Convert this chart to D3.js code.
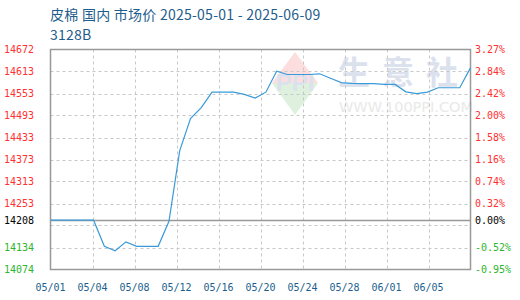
<!DOCTYPE html>
<html><head><meta charset="utf-8">
<script src="https://cdn.jsdelivr.net/npm/d3@7"></script>
<style>html,body{margin:0;padding:0;background:#fff;}svg{display:block;}</style>
</head><body>
<script>
const titleText = "皮棉 国内 市场价 2025-05-01 - 2025-06-09";
const subtitleText = "3128B";
// daily prices 2025-05-01 .. 2025-06-09 (40 days)
const prices = [14208,14208,14208,14208,14208,14137,14125,14149,14137,14137,
                14137,14205,14397,14484,14514,14556,14556,14556,14550,14540,
                14556,14613,14604,14604,14604,14606,14594,14582,14580,14579,
                14579,14577,14577,14557,14552,14556,14568,14568,14568,14622];
const xTickLabels = ["05/01","05/04","05/08","05/12","05/16","05/20","05/24","05/28","06/01","06/05"];
const baseValue = 14208;
const leftTickValues = [14074,14134,14253,14313,14373,14433,14493,14553,14613,14672];
const rightTickLabels = ["-0.95%","-0.52%","0.32%","0.74%","1.16%","1.58%","2.00%","2.42%","2.84%","3.27%"];
const yMin = 14074, yMax = 14672;

const W = 520, H = 300;
const m = {l: 50.5, r: 470.5, t: 49.5, b: 269.5};
const svg = d3.select("body").append("svg").attr("width", W).attr("height", H);

const x = d3.scaleLinear().domain([0, prices.length - 1]).range([m.l, m.r]);
const y = d3.scaleLinear().domain([yMin, yMax]).range([m.b, m.t]);

// watermark
const wm = svg.append("g");
const cx = 295, cy = 83;
wm.append("path").attr("d", `M${cx-23},${cy} L${cx},${cy-31} L${cx+23},${cy} Z`).attr("fill", "#fcdede");
wm.append("path").attr("d", `M${cx-23},${cy} L${cx},${cy+32} L${cx+23},${cy} Z`).attr("fill", "#def1de");
wm.append("text").attr("x", cx).attr("y", cy + 8).attr("text-anchor", "middle")
  .attr("font-family", "Liberation Sans, Arial, sans-serif").attr("font-weight", "bold")
  .attr("font-size", 24).attr("fill", "#dce1ee").text("PPI");
wm.append("text").attr("x", 404).attr("y", 84).attr("text-anchor", "middle")
  .attr("font-family", "Noto Sans CJK SC").attr("font-weight", "bold")
  .attr("font-size", 32).attr("letter-spacing", 12).attr("fill", "#dce1ee").text("生意社");
wm.append("text").attr("x", 406).attr("y", 112).attr("text-anchor", "middle")
  .attr("font-family", "DejaVu Sans, sans-serif")
  .attr("font-size", 14.5).attr("fill", "#e9e9e9").text("WWW.100PPI.COM");

// grid
const grid = svg.append("g").attr("stroke", "#c8c8c8").attr("stroke-dasharray", "3,3").attr("stroke-width", 1);
d3.range(1, 10).forEach(i => {
  const v = yMin + i * (yMax - yMin) / 10;
  grid.append("line").attr("x1", m.l).attr("x2", m.r).attr("y1", Math.round(y(v)) + 0.5).attr("y2", Math.round(y(v)) + 0.5);
});
const xTickPos = d3.range(0, 11).map(i => i * (prices.length - 1) / 10);
xTickPos.slice(1, 10).forEach(t => {
  grid.append("line").attr("y1", m.t).attr("y2", m.b).attr("x1", Math.round(x(t)) + 0.5).attr("x2", Math.round(x(t)) + 0.5);
});

// baseline
svg.append("line").attr("x1", m.l).attr("x2", m.r)
  .attr("y1", Math.round(y(baseValue)) + 0.5).attr("y2", Math.round(y(baseValue)) + 0.5)
  .attr("stroke", "#999").attr("stroke-width", 1.5);

// frame
svg.append("rect").attr("x", m.l).attr("y", m.t).attr("width", m.r - m.l).attr("height", m.b - m.t)
  .attr("fill", "none").attr("stroke", "#999").attr("stroke-width", 1.5);

// line
svg.append("path").datum(prices)
  .attr("d", d3.line().x((d, i) => x(i)).y(d => y(d)))
  .attr("fill", "none").attr("stroke", "#3a9ad9").attr("stroke-width", 1.2);

// left labels
const lab = svg.append("g").attr("font-family", "DejaVu Sans Mono, monospace").attr("font-size", 10);
function colorFor(v) { return v > baseValue ? "#ff3030" : (v < baseValue ? "#2db52d" : "#000"); }
leftTickValues.forEach(v => {
  lab.append("text").attr("x", 34).attr("y", y(v)).attr("dy", "0.35em").attr("text-anchor", "end")
    .attr("fill", colorFor(v)).text(v);
});
lab.append("text").attr("x", 34).attr("y", y(baseValue)).attr("dy", "0.35em").attr("text-anchor", "end")
  .attr("fill", "#000").text(baseValue);
// right labels
leftTickValues.forEach((v, i) => {
  lab.append("text").attr("x", 475).attr("y", y(v)).attr("dy", "0.35em").attr("text-anchor", "start")
    .attr("fill", colorFor(v)).text(rightTickLabels[i]);
});
lab.append("text").attr("x", 475).attr("y", y(baseValue)).attr("dy", "0.35em").attr("text-anchor", "start")
  .attr("fill", "#000").text("0.00%");

// x labels
xTickLabels.forEach((s, i) => {
  lab.append("text").attr("x", x(xTickPos[i])).attr("y", 287).attr("dy", "0.35em").attr("text-anchor", "middle")
    .attr("fill", "#1a5f8e").text(s);
});

// title
svg.append("text").attr("x", 50).attr("y", 20).attr("font-family", "Noto Sans CJK SC, sans-serif")
  .attr("font-size", 14).attr("letter-spacing", 0.25).attr("fill", "#1f5d8c").text(titleText);
svg.append("text").attr("x", 50).attr("y", 40).attr("font-family", "Noto Sans CJK SC, sans-serif")
  .attr("font-size", 14).attr("letter-spacing", 0.25).attr("fill", "#1f5d8c").text(subtitleText);
</script>
</body></html>
